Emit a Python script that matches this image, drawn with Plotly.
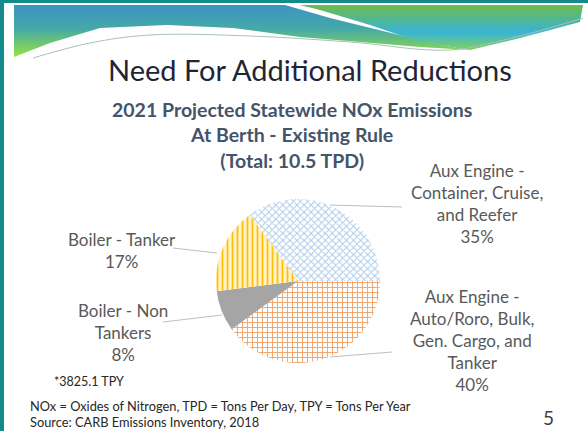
import plotly.graph_objects as go

# ---- data ----
categories = [
    "Aux Engine -<br>Container, Cruise,<br>and Reefer",
    "Aux Engine -<br>Auto/Roro, Bulk,<br>Gen. Cargo, and<br>Tanker",
    "Boiler - Non<br>Tankers",
    "Boiler - Tanker",
]
shares = [35, 40, 8, 17]
slice_colors = ["#ffffff", "#ffffff", "#a5a5a5", "#fff2cc"]
pattern_shapes = ["x", "+", "", "|"]
pattern_fg = ["#a9cbe8", "#f4a46a", "#a5a5a5", "#ffc000"]

W, H = 588, 431
FONT = "Lato"
LABEL_COLOR = "#595959"

fig = go.Figure()

# ---- decorative banner (pixel coords on hidden axes) ----
bx_a = [14, 285, 330, 390, 440, 470, 420, 360, 300, 233, 167, 100, 50, 14, 14]
by_a = [5, 5, 18, 33, 45, 50, 47, 42, 37, 28, 25, 28, 43, 57, 5]
fig.add_trace(go.Scatter(
    x=bx_a, y=by_a, mode="lines", line=dict(width=0), fill="toself",
    fillgradient=dict(type="vertical", start=5, stop=58,
                      colorscale=[[0, "#3d93c2"], [0.45, "#45a9a8"], [1, "#9be33c"]]),
    hoverinfo="skip", showlegend=False))
bx_b = [300, 583, 580, 520, 470, 420, 370, 320, 300]
by_b = [5, 5, 22, 38, 50, 42, 25, 10, 5]
fig.add_trace(go.Scatter(
    x=bx_b, y=by_b, mode="lines", line=dict(width=0), fill="toself",
    fillgradient=dict(type="vertical", start=5, stop=50,
                      colorscale=[[0, "#6dbb4a"], [0.6, "#38b4d6"], [1, "#7fd160"]]),
    hoverinfo="skip", showlegend=False))
fig.add_trace(go.Scatter(
    x=[33, 90, 150, 250, 350, 450, 520, 583], y=[58, 43, 35, 36, 42, 50, 36, 18],
    mode="lines", line=dict(width=1, color="#a9c2b4", shape="spline"),
    hoverinfo="skip", showlegend=False))

# ---- pie ----
cx, cy, r = 298, 281, 82
fig.add_trace(go.Pie(
    labels=categories, values=shares, sort=False, direction="clockwise",
    rotation=-36, textinfo="none", hoverinfo="skip", showlegend=False,
    domain=dict(x=[(cx - r) / W, (cx + r) / W], y=[(H - cy - r) / H, (H - cy + r) / H]),
    marker=dict(colors=slice_colors, line=dict(width=0),
                pattern=dict(shape=pattern_shapes, fgcolor=pattern_fg,
                             bgcolor=slice_colors, size=5, solidity=0.35)),
))

# ---- labels ----
label_pos = [(477, 203), (472, 340), (123, 332), (122, 250)]
for cat, val, (lx, ly) in zip(categories, shares, label_pos):
    fig.add_annotation(x=lx, y=ly, xref="x", yref="y", text=f"{cat}<br>{val}%",
                       showarrow=False, align="center",
                       font=dict(family=FONT, size=17, color=LABEL_COLOR))

leaders = [((330, 205), (402, 207)), ((330, 357), (392, 352)),
           ((222, 315), (163, 322)), ((217, 253), (173, 248))]
shapes = []
for (x0, y0), (x1, y1) in leaders:
    shapes.append(dict(type="line", xref="x", yref="y", x0=x0, y0=y0, x1=x1, y1=y1,
                       line=dict(color="#bfbfbf", width=1)))

# teal frame
shapes.append(dict(type="rect", xref="x", yref="y", x0=0, y0=0, x1=W, y1=3,
                   fillcolor="#148b8b", line=dict(width=0), layer="above"))
shapes.append(dict(type="rect", xref="x", yref="y", x0=0, y0=0, x1=4, y1=H,
                   fillcolor="#148b8b", line=dict(width=0), layer="above"))

# ---- titles & notes ----
fig.add_annotation(x=310, y=69, xref="x", yref="y", text="Need For Additional Reductions",
                   showarrow=False, font=dict(family=FONT, size=29, color="#1e2535"))
fig.add_annotation(x=292, y=135, xref="x", yref="y",
                   text="<b>2021 Projected Statewide NOx Emissions<br>At Berth - Existing Rule<br>(Total: 10.5 TPD)</b>",
                   showarrow=False, align="center",
                   font=dict(family=FONT, size=19.5, color="#44546a"))
fig.add_annotation(x=52, y=381, xref="x", yref="y", text="*3825.1 TPY", xanchor="left",
                   showarrow=False, font=dict(family=FONT, size=12.5, color="#262626"))
fig.add_annotation(x=28, y=406, xref="x", yref="y", xanchor="left",
                   text="NOx = Oxides of Nitrogen, TPD = Tons Per Day, TPY = Tons Per Year",
                   showarrow=False, font=dict(family=FONT, size=12.8, color="#262626"))
fig.add_annotation(x=28, y=422, xref="x", yref="y", xanchor="left",
                   text="Source: CARB Emissions Inventory, 2018",
                   showarrow=False, font=dict(family=FONT, size=12.8, color="#262626"))
fig.add_annotation(x=548, y=417, xref="x", yref="y", text="5",
                   showarrow=False, font=dict(family=FONT, size=19, color="#404040"))

fig.update_layout(
    width=W, height=H, margin=dict(l=0, r=0, t=0, b=0),
    paper_bgcolor="white", plot_bgcolor="white", shapes=shapes,
    xaxis=dict(range=[0, W], visible=False, fixedrange=True, domain=[0, 1]),
    yaxis=dict(range=[H, 0], visible=False, fixedrange=True, domain=[0, 1]),
)

fig.write_html("out.html")
